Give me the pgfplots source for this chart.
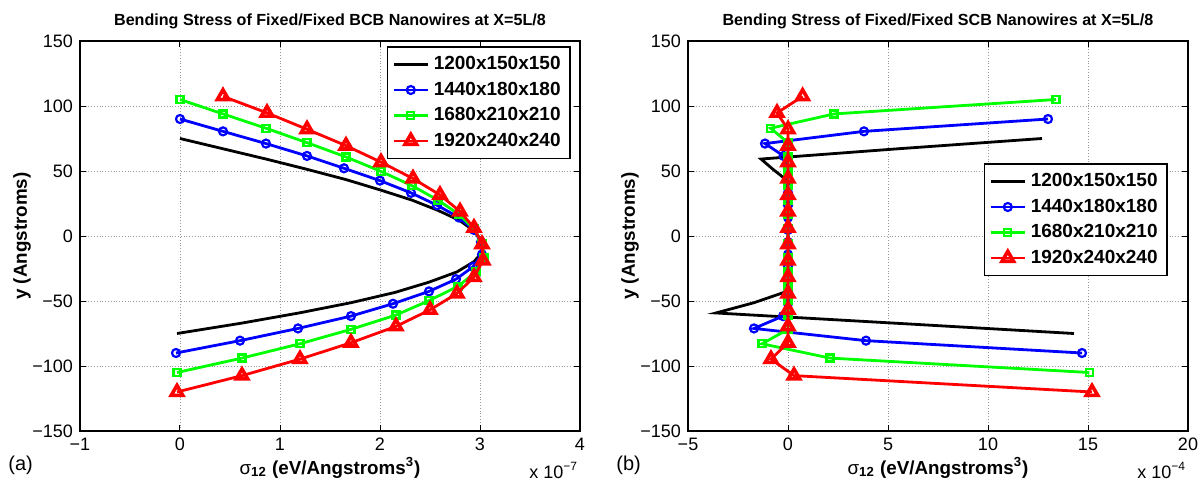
\documentclass[border=0pt]{standalone}
\usepackage{fontspec}
\setmainfont{Liberation Sans}
\usepackage{pgfplots}
\pgfplotsset{compat=1.18}
\definecolor{mblue}{rgb}{0,0,1}
\definecolor{mgreen}{rgb}{0,1,0}
\definecolor{mred}{rgb}{1,0,0}
\pgfplotsset{
  common/.style={
    scale only axis, width=250pt, height=195pt, clip mode=individual,
    ymin=-150, ymax=150,
    ytick={-150,-100,-50,0,50,100,150},
    yticklabels={−150,−100,−50,0,50,100,150},
    grid=major, major grid style={densely dotted, gray!80, line width=0.4pt},
    tick align=inside, major tick length=3pt,
    tick style={black, line width=0.5pt},
    axis line style={line width=0.8pt},
    tick label style={font=\fontsize{9}{10}\selectfont},
    title style={font=\bfseries\fontsize{8.05}{9}\selectfont, at={(axis description cs:0.5,1)}, anchor=base, yshift=1.8pt},
    xlabel style={font=\bfseries\fontsize{9.4}{11}\selectfont, at={(axis description cs:0.5,0)}, anchor=base, yshift=-21.5pt},
    ylabel style={font=\bfseries\fontsize{9.4}{11}\selectfont, at={(axis description cs:-0.116,0.5)}, anchor=center},
    xlabel={{\mdseries σ}\textsubscript{12} (eV/Angstroms\textsuperscript{3})},
    ylabel={y (Angstroms)},
    legend style={font=\bfseries\fontsize{9.5}{11}\selectfont, draw=black, line width=0.8pt, inner sep=2.5pt, row sep=0pt, nodes={inner sep=2.3pt}},
    legend cell align=left,
    legend image code/.code={\draw[mark repeat=2,mark phase=2] plot coordinates {(0pt,0pt) (8.5pt,0pt) (17pt,0pt)};},
  },
  sblack/.style={black, line width=1.4pt, no marks},
  sblue/.style={mblue, line width=1.4pt, mark=o, mark size=2pt, mark options={solid, line width=1.1pt}},
  sgreen/.style={mgreen, line width=1.4pt, mark=square, mark size=1.75pt, mark options={solid, line width=1.1pt}},
  sred/.style={mred, line width=1.4pt, mark=triangle, mark size=3.3pt, mark options={solid, line width=1.8pt}},
}
\begin{document}
\begin{tikzpicture}
\path[use as bounding box] (-40pt,-26.5pt) rectangle (560pt,215.5pt);
\begin{axis}[common, at={(0pt,0pt)}, anchor=south west,
  xmin=-1, xmax=4, xtick={-1,0,1,2,3,4}, xticklabels={−1,0,1,2,3,4},
  title={Bending Stress of Fixed/Fixed BCB Nanowires at X=5L/8},
  legend style={at={(axis description cs:1,1)}, anchor=north east, xshift=-4.5pt, yshift=-2.5pt}]
\addplot[sblack] coordinates {(0,75) (0.43,67.1) (0.86,59.2) (1.27,51.3) (1.66,43.4) (2.0,35.5) (2.32,27.6) (2.58,19.7) (2.8,11.8) (2.94,3.9) (3.02,-3.9) (3.03,-11.8) (2.94,-19.7) (2.77,-27.6) (2.49,-35.5) (2.15,-43.4) (1.71,-51.3) (1.19,-59.2) (0.61,-67.1) (-0.03,-75)};
\addplot[sblue] coordinates {(0,90) (0.43,80.5) (0.86,71.1) (1.27,61.6) (1.64,52.1) (2.0,42.6) (2.31,33.2) (2.57,23.7) (2.79,14.2) (2.94,4.7) (3.01,-4.7) (3.02,-14.2) (2.93,-23.7) (2.76,-33.2) (2.49,-42.6) (2.13,-52.1) (1.71,-61.6) (1.18,-71.1) (0.60,-80.5) (-0.04,-90)};
\addplot[sgreen] coordinates {(0,105) (0.43,93.9) (0.86,82.9) (1.27,71.8) (1.66,60.8) (2.01,49.7) (2.32,38.7) (2.58,27.6) (2.79,16.6) (2.94,5.5) (3.02,-5.5) (3.04,-16.6) (2.96,-27.6) (2.78,-38.7) (2.49,-49.7) (2.16,-60.8) (1.71,-71.8) (1.2,-82.9) (0.62,-93.9) (-0.03,-105)};
\addplot[sred] coordinates {(0.43,107.4) (0.87,94.7) (1.27,82.1) (1.66,69.5) (2.01,56.8) (2.33,44.2) (2.6,31.6) (2.8,18.9) (2.94,6.3) (3.02,-6.3) (3.03,-18.9) (2.94,-31.6) (2.77,-44.2) (2.5,-56.8) (2.16,-69.5) (1.71,-82.1) (1.2,-94.7) (0.62,-107.4) (-0.03,-120)};
\legend{1200x150x150,1440x180x180,1680x210x210,1920x240x240}
\node[anchor=base west, font=\fontsize{9}{10}\selectfont, inner sep=0pt] at (axis description cs:1,0) [xshift=-25.5pt, yshift=-23.5pt] {x 10\textsuperscript{−7}};
\node[anchor=base west, font=\fontsize{10}{11}\selectfont, inner sep=0pt] at (axis description cs:0,0) [xshift=-36pt, yshift=-19.5pt] {(a)};
\end{axis}
\begin{axis}[common, at={(304pt,0pt)}, anchor=south west,
  xmin=-5, xmax=20, xtick={-5,0,5,10,15,20}, xticklabels={−5,0,5,10,15,20},
  title={Bending Stress of Fixed/Fixed SCB Nanowires at X=5L/8},
  legend style={at={(axis description cs:1,1)}, anchor=north east, xshift=-10pt, yshift=-61pt}]
\addplot[sblack] coordinates {(12.7,75) (5.5,67.1) (-1.35,59.2) (-0.75,51.3) (-0.1,43.4) (0,35.5) (0,27.6) (0,19.7) (0,11.8) (0,3.9) (0,-3.9) (0,-11.8) (0,-19.7) (0,-27.6) (0,-35.5) (-0.2,-43.4) (-1.7,-51.3) (-3.6,-59.2) (5.4,-67.1) (14.3,-75)};
\addplot[sblue] coordinates {(13.0,90) (3.8,80.5) (-1.15,71.1) (-0.22,61.6) (0,52.1) (0,42.6) (0,33.2) (0,23.7) (0,14.2) (0,4.7) (0,-4.7) (0,-14.2) (0,-23.7) (0,-33.2) (0,-42.6) (0,-52.1) (-0.25,-61.6) (-1.7,-71.1) (3.9,-80.5) (14.7,-90)};
\addplot[sgreen] coordinates {(13.4,105) (2.3,93.9) (-0.87,82.9) (0,71.8) (0,60.8) (0,49.7) (0,38.7) (0,27.6) (0,16.6) (0,5.5) (0,-5.5) (0,-16.6) (0,-27.6) (0,-38.7) (0,-49.7) (0,-60.8) (0,-71.8) (-1.3,-82.9) (2.1,-93.9) (15.07,-105)};
\addplot[sred] coordinates {(0.73,107.4) (-0.55,94.7) (0,82.1) (0,69.5) (0,56.8) (0,44.2) (0,31.6) (0,18.9) (0,6.3) (0,-6.3) (0,-18.9) (0,-31.6) (0,-44.2) (0,-56.8) (0,-69.5) (0,-82.1) (-0.85,-94.7) (0.3,-107.4) (15.2,-120)};
\legend{1200x150x150,1440x180x180,1680x210x210,1920x240x240}
\node[anchor=base west, font=\fontsize{9}{10}\selectfont, inner sep=0pt] at (axis description cs:1,0) [xshift=-25.5pt, yshift=-23.5pt] {x 10\textsuperscript{−4}};
\node[anchor=base west, font=\fontsize{10}{11}\selectfont, inner sep=0pt] at (axis description cs:0,0) [xshift=-36pt, yshift=-19.5pt] {(b)};
\end{axis}
\end{tikzpicture}
\end{document}
